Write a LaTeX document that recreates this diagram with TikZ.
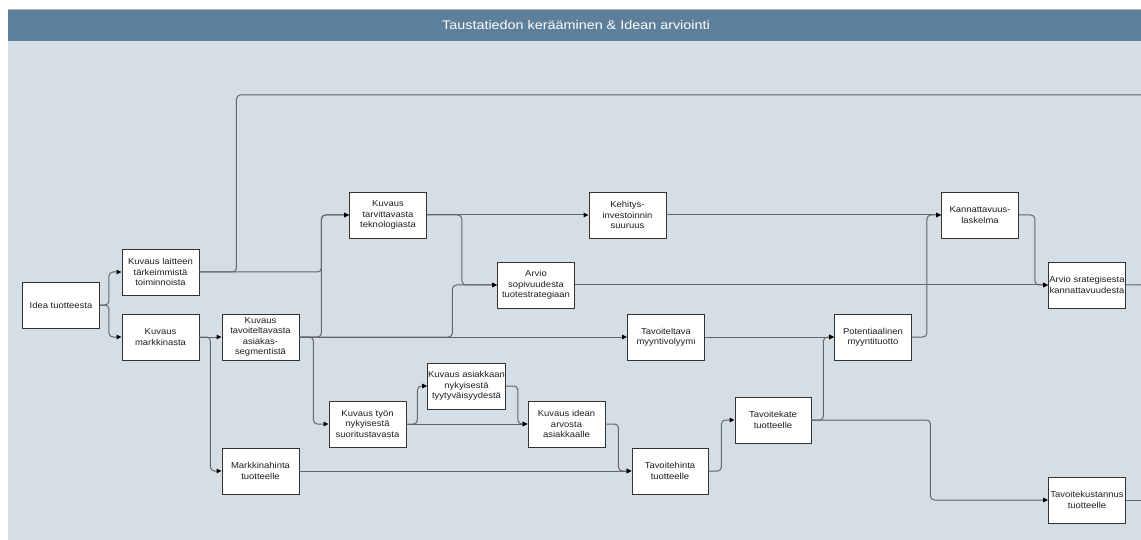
\documentclass[tikz,border=0pt]{standalone}
\usepackage{fontspec}
\setmainfont{Liberation Sans}
\newfontfamily\boxfont[FakeStretch=1.1]{Liberation Sans}
\newfontfamily\headfont[FakeStretch=1.15]{Liberation Sans}
\usetikzlibrary{arrows.meta}
\definecolor{panel}{HTML}{D5DDE5}
\definecolor{headbar}{HTML}{5E7F9A}
\definecolor{headedge}{HTML}{A9B8C6}
\definecolor{wirecol}{HTML}{666666}
\definecolor{boxline}{HTML}{333333}
\definecolor{ink}{HTML}{1E1E1E}
\begin{document}
\begin{tikzpicture}[x=1pt,y=-1pt,
  stepbox/.style={draw=boxline, line width=0.9pt, fill=white,
    minimum width=77pt, minimum height=46pt, inner sep=0.5pt,
    align=center, text=ink, font=\boxfont\fontsize{8.6}{10.4}\selectfont},
  link/.style={draw=wirecol, line width=1pt, rounded corners=4pt},
  conn/.style={link, -{Triangle[length=5pt,width=4.5pt,color=black]}}]

% page, panel and title bar
\clip (0,0) rectangle (1141,540);
\fill[white] (0,0) rectangle (1141,540);
\fill[panel] (8,41) rectangle (1141,540);
\fill[headbar] (8,9) rectangle (1141,41);
\draw[headedge, line width=1pt] (8,9.5) -- (1141,9.5);
\node[text=white, font=\headfont\fontsize{12.5}{14}\selectfont] (title) at (576,25)
  {Taustatiedon kerääminen \& Idean arviointi};

% steps
\node[stepbox] (idea)    at (61,305)    {Idea tuotteesta};
\node[stepbox] (laite)   at (160.5,272) {Kuvaus laitteen\\tärkeimmistä\\toiminnoista};
\node[stepbox] (markk)   at (160.5,337) {Kuvaus\\markkinasta};
\node[stepbox] (segm)    at (260.5,337) {Kuvaus\\tavoiteltavasta\\asiakas-\\segmentistä};
\node[stepbox] (tekno)   at (388,215)   {Kuvaus\\tarvittavasta\\teknologiasta};
\node[stepbox] (kehit)   at (627.5,215) {Kehitys-\\investoinnin\\suuruus};
\node[stepbox] (sopiv)   at (536,285)   {Arvio\\sopivuudesta\\tuotestrategiaan};
\node[stepbox] (kannat)  at (980,215)   {Kannattavuus-\\laskelma};
\node[stepbox] (strat)   at (1087,285)  {Arvio srategisesta\\kannattavuudesta};
\node[stepbox] (volyymi) at (666,337)   {Tavoiteltava\\myyntivolyymi};
\node[stepbox] (potent)  at (873,337)   {Potentiaalinen\\myyntituotto};
\node[stepbox] (tyytyv)  at (466.5,386) {Kuvaus asiakkaan\\nykyisestä\\tyytyväisyydestä};
\node[stepbox] (tyon)    at (367.5,424) {Kuvaus työn\\nykyisestä\\suoritustavasta};
\node[stepbox] (idean)   at (566.5,424) {Kuvaus idean\\arvosta\\asiakkaalle};
\node[stepbox] (markkh)  at (260.5,471) {Markkinahinta\\tuotteelle};
\node[stepbox, minimum width=76pt] (tavh)  at (670,471) {Tavoitehinta\\tuotteelle};
\node[stepbox, minimum width=76pt] (tavk)  at (773,420) {Tavoitekate\\tuotteelle};
\node[stepbox] (tavkust) at (1087,500)  {Tavoitekustannus\\tuotteelle};

% loose ends running off the right edge
\coordinate (topend)   at (1150,95);
\coordinate (stratend) at (1145,340);
\coordinate (kustend)  at (1150,500);

% connectors
\draw[conn] (idea.east) -- ++(9,0) |- (laite.west);
\draw[conn] (idea.east) -- ++(9,0) |- (markk.west);
\draw[conn] (laite.east) -- ++(122,0) |- (tekno.west);
\draw[link] (laite.east) -- ++(37,0) |- (topend);
\draw[conn] (markk.east) -- (segm.west);
\draw[conn] (markk.east) -- ++(11,0) |- (markkh.west);
\draw[conn] (segm.east) -- ++(22,0) |- (tekno.west);
\draw[conn] (segm.east) -- ++(153,0) |- (sopiv.west);
\draw[conn] (segm.east) -- (volyymi.west);
\draw[conn] (segm.east) -- ++(14,0) |- (tyon.west);
\draw[conn] (tekno.east) -- (kehit.west);
\draw[conn] (tekno.east) -- ++(35,0) |- (sopiv.west);
\draw[conn] (kehit.east) -- (kannat.west);
\draw[conn] (sopiv.east) -- (strat.west);
\draw[conn] (kannat.east) -- ++(16,0) |- (strat.west);
\draw[conn] (volyymi.east) -- (potent.west);
\draw[conn] (potent.east) -- ++(15,0) |- (kannat.west);
\draw[conn] (tavk.east) -- ++(12,0) |- (potent.west);
\draw[conn] (tavk.east) -- ++(119,0) |- (tavkust.west);
\draw[conn] (tyon.east) -- ++(11,0) |- (tyytyv.west);
\draw[conn] (tyon.east) -- (idean.west);
\draw[conn] (tyytyv.east) -- ++(12,0) |- (idean.west);
\draw[conn] (idean.east) -- ++(13,0) |- (tavh.west);
\draw[conn] (markkh.east) -- (tavh.west);
\draw[conn] (tavh.east) -- ++(13,0) |- (tavk.west);
\draw[link] (strat.east) -| (stratend);
\draw[link] (tavkust.east) -- (kustend);
\end{tikzpicture}
\end{document}
